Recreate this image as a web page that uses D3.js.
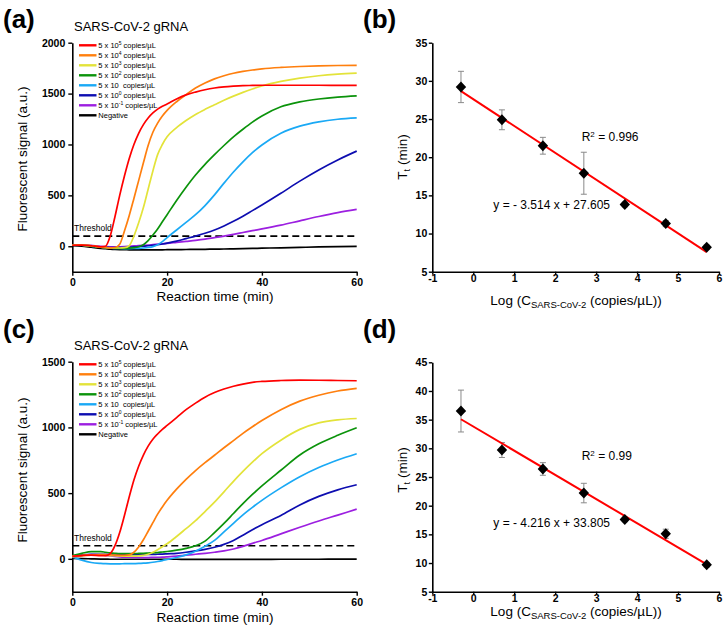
<!DOCTYPE html>
<html><head><meta charset="utf-8">
<script src="https://cdn.jsdelivr.net/npm/d3@7"></script>
<style>
body{margin:0;background:#fff;}
svg text{font-family:"Liberation Sans",Arial,sans-serif;}
</style></head>
<body><svg id="c" width="723" height="632"></svg>
<script>
// ---------- DATA ----------
const times = [0,2,4,6,7,8,9,10,11,12,13,14,15,16,17,18,19,20,22,24,26,28,30,32,34,36,38,40,44,48,52,56,60];
const seriesNames = ["5 x 10^5","5 x 10^4","5 x 10^3","5 x 10^2","5 x 10","5 x 10^0","5 x 10^-1","Negative"];
const legendBase = ["5 x 10","5 x 10","5 x 10","5 x 10","5 x 10 ","5 x 10","5 x 10",""];
const legendExp = ["5","4","3","2","","0","-1",""];
const legendTail = [" copies/µL"," copies/µL"," copies/µL"," copies/µL"," copies/µL"," copies/µL"," copies/µL","Negative"];
const colors = ["#ff0000","#ff7f0e","#e3e33a","#0b930b","#1aa9f5","#0d0db0","#9c1fe0","#000000"];

// panel (a)
const redA    = [10,12,5,-5,0,100,290,500,690,860,1000,1110,1195,1260,1310,1347,1375,1397,1447,1487,1515,1538,1555,1566,1573,1578,1580,1582,1582,1582,1582,1581,1580];
const orangeA = [10,12,5,-8,-12,-15,-12,20,150,300,470,645,820,990,1120,1210,1280,1335,1420,1490,1555,1605,1645,1675,1700,1718,1732,1743,1757,1766,1772,1776,1778];
const yellowA = [10,12,5,-8,-12,-15,-17,-17,-14,5,100,230,380,560,740,900,1000,1075,1165,1235,1295,1345,1390,1435,1475,1512,1545,1575,1620,1652,1675,1691,1702];
const greenA  = [10,10,0,-10,-14,-17,-19,-20,-20,-18,-14,-5,15,55,110,170,240,310,450,580,700,805,900,990,1075,1150,1220,1280,1370,1418,1447,1466,1478];
const cyanA   = [10,10,0,-10,-14,-17,-20,-22,-23,-23,-22,-20,-17,-12,-3,15,45,85,160,235,310,400,505,620,730,830,920,995,1110,1180,1222,1248,1262];
const blueA   = [10,10,2,-8,-10,-12,-13,-13,-12,-10,-7,-3,0,5,10,15,22,30,50,75,100,128,160,200,245,295,350,405,520,640,750,848,935];
const purpleA = [15,15,8,0,-3,-5,-6,-5,-3,0,3,6,9,12,16,20,24,28,38,48,58,70,85,100,117,135,153,170,207,250,292,330,362];
const blackA  = [5,0,-10,-20,-24,-28,-31,-33,-34,-35,-36,-36,-36,-36,-36,-35,-35,-34,-33,-32,-31,-30,-28,-27,-25,-23,-21,-19,-15,-11,-7,-4,-2];

// panel (c)
const redC    = [20,25,28,25,25,40,100,200,330,470,600,705,790,858,910,950,985,1015,1075,1135,1185,1230,1265,1292,1313,1330,1343,1350,1357,1360,1359,1357,1355];
const orangeC = [15,25,30,32,32,30,28,27,27,30,50,90,145,210,275,340,395,445,530,605,672,732,788,845,900,955,1005,1052,1135,1200,1245,1277,1297];
const yellowC = [20,25,28,28,27,25,24,22,21,20,20,22,27,35,50,70,92,115,170,230,290,360,432,510,590,665,735,800,903,985,1035,1058,1068];
const greenC  = [25,42,55,55,50,45,42,40,40,40,40,41,42,44,46,48,52,56,66,80,100,135,200,270,345,420,490,555,674,790,875,940,997];
const cyanC   = [15,-10,-28,-35,-37,-38,-38,-38,-37,-37,-36,-35,-33,-30,-26,-20,-13,-5,10,30,58,95,140,205,270,335,392,445,540,625,695,752,800];
const blueC   = [20,30,35,35,34,33,32,32,32,32,32,32,33,33,34,35,36,38,42,50,60,72,88,110,140,180,222,260,330,410,475,525,564];
const purpleC = [15,28,33,30,27,22,18,15,13,12,11,10,10,10,11,12,13,15,20,28,35,42,50,60,75,95,118,140,190,240,288,333,378];
const blackC  = [3,2,0,-2,-2,-3,-3,-3,-3,-3,-3,-3,-3,-3,-3,-3,-3,-3,-3,-4,-4,-4,-4,-4,-4,-4,-4,-4,-3,-3,-3,-2,-2];

const thresholdValue = 100;
const ampXTicks = [0,20,40,60];
const ampYTicksA = [0,500,1000,1500,2000];
const ampYTicksC = [0,500,1000,1500];

// calibration panels (b), (d)
const logConc = [-0.3,0.7,1.7,2.7,3.7,4.7,5.7];
const ttB  = [29.2,24.9,21.5,17.9,13.8,11.3,8.2];
const errB = [2.05,1.3,1.1,2.75,0.3,0.4,0.3];
const ttD  = [36.5,29.7,26.4,22.2,17.6,15.1,9.7];
const errD = [3.65,1.3,1.1,1.7,0.4,0.8,0.4];
const fitB = [-3.514, 27.605];   // slope, intercept (as printed)
const fitD = [-4.216, 33.805];
const fitRange = [-0.3, 5.7];
const calXTicks = [-1,0,1,2,3,4,5,6];
const calYTicksB = [5,10,15,20,25,30,35];
const calYTicksD = [5,10,15,20,25,30,35,40,45];

// ---------- DRAW ----------
const svg = d3.select("#c");
const plain = d => String(d);

function panelLabel(x,y,t){
  svg.append("text").attr("x",x).attr("y",y).attr("font-size",26).attr("font-weight","bold").text(t);
}
function styleAxis(g){
  g.select(".domain").attr("stroke","#000").attr("stroke-width",1.6);
  g.selectAll(".tick line").attr("stroke","#000").attr("stroke-width",1.4);
  g.selectAll(".tick text").attr("font-size",10.5).attr("font-weight","bold").attr("fill","#000")
    .attr("font-family","'Liberation Sans',Arial,sans-serif");
}

function drawAmp(o){
  const x = d3.scaleLinear().domain([0,60]).range([72.3,356.7]);
  const y = d3.scaleLinear().domain(o.yDomain).range(o.yRange);
  const g = svg.append("g");
  const gy = g.append("g").attr("transform",`translate(${x(0)},0)`)
    .call(d3.axisLeft(y).tickValues(o.yTicks).tickSize(4).tickSizeOuter(0).tickPadding(3).tickFormat(plain));
  const gx = g.append("g").attr("transform",`translate(0,${y(o.yDomain[0])})`)
    .call(d3.axisBottom(x).tickValues(ampXTicks).tickSize(4).tickSizeOuter(0).tickPadding(3).tickFormat(plain));
  styleAxis(gy); styleAxis(gx);
  // threshold
  g.append("line").attr("x1",x(0)).attr("x2",x(60)).attr("y1",y(thresholdValue)).attr("y2",y(thresholdValue))
    .attr("stroke","#000").attr("stroke-width",1.6).attr("stroke-dasharray","7,4");
  g.append("text").attr("x",74).attr("y",y(thresholdValue)-5).attr("font-size",8.5).text("Threshold");
  const line = d3.line().x((d,i)=>x(times[i])).y(d=>y(d)).curve(d3.curveMonotoneX);
  o.series.slice().reverse().forEach((s,ri)=>{
    const i = o.series.length-1-ri;
    g.append("path").attr("d",line(s)).attr("fill","none").attr("stroke",colors[i]).attr("stroke-width",1.7);
  });
  // legend
  const lg = g.append("g");
  seriesNames.forEach((n,i)=>{
    const yy = o.legendY0 + i*10;
    lg.append("line").attr("x1",79).attr("x2",96.5).attr("y1",yy).attr("y2",yy).attr("stroke",colors[i]).attr("stroke-width",2.4);
    const t = lg.append("text").attr("x",98.3).attr("y",yy+2.7).attr("font-size",7.5).style("white-space","pre");
    if(legendBase[i]!==""){
      t.append("tspan").text(legendBase[i]);
      if(legendExp[i]!=="") t.append("tspan").attr("dy",-3).attr("font-size",5).text(legendExp[i]);
      t.append("tspan").attr("dy",legendExp[i]!==""?3:0).text(legendTail[i]);
    } else t.text(legendTail[i]);
  });
  // titles
  g.append("text").attr("x",74).attr("y",o.titleY).attr("font-size",13).text("SARS-CoV-2 gRNA");
  g.append("text").attr("x",215).attr("y",o.xLabelY).attr("text-anchor","middle").attr("font-size",13.5).text("Reaction time (min)");
  g.append("text").attr("transform",`translate(27,${o.yLabelC}) rotate(-90)`).attr("text-anchor","middle").attr("font-size",13.5).text("Fluorescent signal (a.u.)");
}

function drawCal(o){
  const x = d3.scaleLinear().domain([-1,6]).range([432.3,719]);
  const y = d3.scaleLinear().domain(o.yDomain).range(o.yRange);
  const g = svg.append("g");
  const gy = g.append("g").attr("transform",`translate(${x(-1)},0)`)
    .call(d3.axisLeft(y).tickValues(o.yTicks).tickSize(3.5).tickSizeOuter(0).tickPadding(1.5).tickFormat(plain));
  const gx = g.append("g").attr("transform",`translate(0,${y(o.yDomain[0])})`)
    .call(d3.axisBottom(x).tickValues(calXTicks).tickSize(3).tickSizeOuter(0).tickPadding(-0.5).tickFormat(plain));
  styleAxis(gy); styleAxis(gx);
  // error bars
  logConc.forEach((c,i)=>{
    const e = o.err[i], v = o.vals[i];
    g.append("line").attr("x1",x(c)).attr("x2",x(c)).attr("y1",y(v+e)).attr("y2",y(v-e)).attr("stroke","#8a8a8a").attr("stroke-width",1);
    [v+e,v-e].forEach(w=>g.append("line").attr("x1",x(c)-3).attr("x2",x(c)+3).attr("y1",y(w)).attr("y2",y(w)).attr("stroke","#8a8a8a").attr("stroke-width",1));
  });
  // fit line
  g.append("line").attr("x1",x(fitRange[0])).attr("y1",y(o.fit[0]*fitRange[0]+o.fit[1]))
    .attr("x2",x(fitRange[1])).attr("y2",y(o.fit[0]*fitRange[1]+o.fit[1]))
    .attr("stroke","#ff0000").attr("stroke-width",2);
  // diamonds
  logConc.forEach((c,i)=>{
    g.append("path").attr("d","M0,-5.5L5.2,0L0,5.5L-5.2,0Z").attr("transform",`translate(${x(c)},${y(o.vals[i])})`).attr("fill","#000");
  });
  // annotations
  const r = g.append("text").attr("x",581.7).attr("y",o.rY).attr("font-size",12);
  r.append("tspan").text("R");
  r.append("tspan").attr("dy",-4.5).attr("font-size",8).text("2");
  r.append("tspan").attr("dy",4.5).text(" = "+o.r2);
  g.append("text").attr("x",493.3).attr("y",o.eqY).attr("font-size",12).text(o.eq);
  // axis labels
  const yl = g.append("text").attr("transform",`translate(407,${o.yLabelC}) rotate(-90)`).attr("text-anchor","middle").attr("font-size",13.5);
  yl.append("tspan").text("T");
  yl.append("tspan").attr("dy",3).attr("font-size",9).text("t");
  yl.append("tspan").attr("dy",-3).text(" (min)");
  const xl = g.append("text").attr("x",576).attr("y",o.xLabelY).attr("text-anchor","middle").attr("font-size",13.5);
  xl.append("tspan").text("Log (C");
  xl.append("tspan").attr("dy",3).attr("font-size",9.5).text("SARS-CoV-2");
  xl.append("tspan").attr("dy",-3).text(" (copies/µL))");
}

drawAmp({yDomain:[-250,2000], yRange:[271.7,42.7], yTicks:ampYTicksA,
  series:[redA,orangeA,yellowA,greenA,cyanA,blueA,purpleA,blackA],
  legendY0:45.3, titleY:31, xLabelY:301, yLabelC:159});
drawAmp({yDomain:[-250,1500], yRange:[591.7,361.7], yTicks:ampYTicksC,
  series:[redC,orangeC,yellowC,greenC,cyanC,blueC,purpleC,blackC],
  legendY0:364.3, titleY:350, xLabelY:622, yLabelC:470});
drawCal({yDomain:[5,35], yRange:[271.7,42.7], yTicks:calYTicksB, vals:ttB, err:errB, fit:fitB,
  r2:"0.996", rY:141, eq:"y = - 3.514 x + 27.605", eqY:209, yLabelC:157, xLabelY:305});
drawCal({yDomain:[5,45], yRange:[591.7,362.3], yTicks:calYTicksD, vals:ttD, err:errD, fit:fitD,
  r2:"0.99", rY:460, eq:"y = - 4.216 x + 33.805", eqY:526.5, yLabelC:470, xLabelY:616});

panelLabel(3,28,"(a)");
panelLabel(363,28,"(b)");
panelLabel(3,338,"(c)");
panelLabel(363,338,"(d)");
</script></body></html>
